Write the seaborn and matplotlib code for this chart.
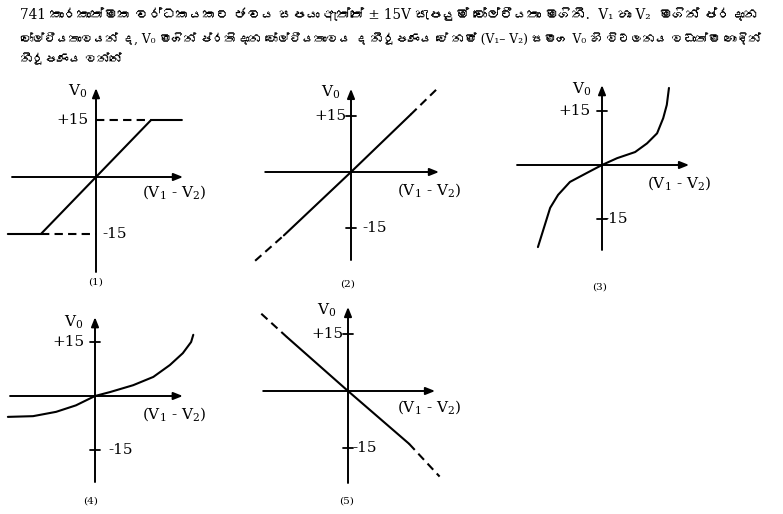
import matplotlib
matplotlib.use("Agg")
import matplotlib.pyplot as plt
from matplotlib import font_manager, ft2font
import seaborn as sns

sns.set_style("white")

# look for any installed family that covers Sinhala (U+0D80-U+0DFF)
sinhala_families = []
for f in font_manager.fontManager.ttflist:
    try:
        cmap = ft2font.FT2Font(f.fname).get_charmap()
    except Exception:
        continue
    if 0x0D9A in cmap and 0x0DCA in cmap and f.name not in sinhala_families:
        sinhala_families.append(f.name)

plt.rcParams["font.family"] = ["DejaVu Serif"] + sinhala_families + ["DejaVu Sans"]
plt.rcParams["mathtext.fontset"] = "dejavuserif"
plt.rcParams["text.color"] = "black"

W, H = 783, 514

# Question text (Sinhala); unicode subscripts so the font fallback keeps working
question_lines = [
    "741 කාරකාත්මක වර්ධකයකට ජවය සපයා ඇත්තේ ± 15V සැපයුම් වෝල්ටීයතා මගිනි.  V₁ හා V₂  මගින් ප්‍රදාන",
    "වෝල්ටීයතාවයන් ද, V₀ මගින් ප්‍රතිදාන වෝල්ටීයතාවය ද නිරූපණය වේ නම් (V₁– V₂) සමග V₀ හි විචලනය වඩාත්ම හොඳින්",
    "නිරූපණය වන්නේ",
]

panel_tags = ["(1)", "(2)", "(3)", "(4)", "(5)"]
y_label = "V$_0$"
x_label = "(V$_1$ - V$_2$)"
level_labels = ["+15", "-15"]
levels = [15, -15]

# Panel 1: clipped at the supply rails
p1_solid_x = [-23.2, -14.5, 0, 14.5, 22.6]
p1_solid_y = [-15, -15, 0, 15, 15]
p1_rail_hi_x = [0, 14.5]
p1_rail_hi_y = [15, 15]
p1_rail_lo_x = [-14.5, 0]
p1_rail_lo_y = [-15, -15]

# Panel 2: straight line, dashed past the rails
p2_solid_x = [-18.0, 0, 16.0]
p2_solid_y = [-17.0, 0, 15.4]
p2_dash_lo_x = [-25.7, -18.0]
p2_dash_lo_y = [-23.8, -17.0]
p2_dash_hi_x = [16.0, 23.6]
p2_dash_hi_y = [15.4, 22.8]

# Panel 3: S-shaped curve
p3_x = [-17.8, -14.4, -12.2, -8.9, -4.2, 0, 4.2, 9.2, 12.5, 15.3, 17.0, 18.0, 18.6]
p3_y = [-22.8, -11.9, -8.3, -4.7, -2.2, 0, 1.9, 3.6, 6.0, 8.8, 13.0, 16.7, 21.4]

# Panel 4: exponential-like curve
p4_x = [-24.2, -17.2, -10.8, -5.3, 0, 4.2, 10.6, 16.2, 20.8, 24.4, 26.7, 27.3]
p4_y = [-5.8, -5.6, -4.4, -2.6, 0, 1.1, 3.0, 5.3, 8.6, 11.9, 15.0, 17.0]

# Panel 5: inverted straight line
p5_solid_x = [-16.2, 0, 16.2]
p5_solid_y = [14.3, 0, -14.0]
p5_dash_hi_x = [-23.0, -16.2]
p5_dash_hi_y = [20.5, 14.3]
p5_dash_lo_x = [16.2, 24.3]
p5_dash_lo_y = [-14.0, -22.7]

# layout: origin in pixels, pixels per unit, axis extents, label positions
origins = [(96, 177), (351, 172), (602, 165), (95, 396), (348, 391)]
scales = [3.8, 3.73, 3.6, 3.6, 3.77]
x_ext = [(-22.1, 22.9), (-23.0, 23.6), (-23.6, 24.2), (-23.6, 24.4), (-22.5, 23.1)]
y_ext = [(-25.0, 23.4), (-23.6, 22.3), (-23.6, 22.2), (-23.9, 21.9), (-24.4, 22.3)]
v0_pos = [(-4.7, 22.6), (-5.4, 21.4), (-5.6, 21.1), (-5.8, 20.6), (-5.6, 21.5)]
hi_pos = [-2.1, -1.3, -3.3, -2.8, -1.3]
lo_pos = [1.6, 3.0, 0.3, 3.6, 1.1]
xl_pos = [(12.1, -3.9), (12.3, -4.8), (12.5, -5.0), (13.1, -5.0), (13.0, -4.2)]
tag_pos = [(0, -27.6), (-0.8, -30.0), (-0.6, -34.0), (-1.1, -29.2), (-0.5, -29.2)]
has_ticks = [False, True, True, True, True]

text_left = 20
text_rows = [15, 40, 60]
text_right = 762

dash = (0, (4, 2.5))
lw = 1.5

fig = plt.figure(figsize=(W / 100, H / 100), dpi=100)
fig.patch.set_facecolor("white")

question_texts = []
for i, line in enumerate(question_lines):
    t = fig.text(text_left / W, 1 - text_rows[i] / H, line, fontsize=10.5, va="center", ha="left")
    question_texts.append(t)

# shrink the first two lines so they end where the reference lines end
fig.canvas.draw()
renderer = fig.canvas.get_renderer()
for t in question_texts[:2]:
    width = t.get_window_extent(renderer).width
    t.set_fontsize(t.get_fontsize() * (text_right - text_left) / width)
question_texts[2].set_fontsize(question_texts[1].get_fontsize())

axes = []
for i in range(5):
    ox, oy = origins[i]
    s = scales[i]
    ax = fig.add_axes([(ox - 30 * s) / W, (H - oy - 30 * s) / H, 60 * s / W, 60 * s / H])
    ax.set_xlim(-30, 30)
    ax.set_ylim(-30, 30)
    ax.axis("off")
    ax.patch.set_alpha(0)
    arrow = dict(arrowstyle="-|>,head_length=0.55,head_width=0.22", lw=1.4,
                 color="black", shrinkA=0, shrinkB=0, mutation_scale=10)
    ax.annotate("", xy=(x_ext[i][1], 0), xytext=(x_ext[i][0], 0), arrowprops=arrow)
    ax.annotate("", xy=(0, y_ext[i][1]), xytext=(0, y_ext[i][0]), arrowprops=arrow)
    if has_ticks[i]:
        for lv in levels:
            ax.plot([-1.4, 1.4], [lv, lv], color="black", lw=1.3)
    ax.text(v0_pos[i][0], v0_pos[i][1], y_label, fontsize=11, ha="center", va="center")
    ax.text(hi_pos[i], levels[0], level_labels[0], fontsize=11, ha="right", va="center")
    ax.text(lo_pos[i], levels[1], level_labels[1], fontsize=11, ha="left", va="center")
    ax.text(xl_pos[i][0], xl_pos[i][1], x_label, fontsize=11, ha="left", va="center")
    ax.text(tag_pos[i][0], tag_pos[i][1], panel_tags[i], fontsize=7.5, ha="center", va="center")
    axes.append(ax)


def draw(ax, x, y, dashed=False):
    kw = dict(linestyle=dash) if dashed else {}
    sns.lineplot(x=x, y=y, ax=ax, color="black", lw=lw, sort=False, estimator=None, **kw)


draw(axes[0], p1_solid_x, p1_solid_y)
draw(axes[0], p1_rail_hi_x, p1_rail_hi_y, dashed=True)
draw(axes[0], p1_rail_lo_x, p1_rail_lo_y, dashed=True)

draw(axes[1], p2_solid_x, p2_solid_y)
draw(axes[1], p2_dash_lo_x, p2_dash_lo_y, dashed=True)
draw(axes[1], p2_dash_hi_x, p2_dash_hi_y, dashed=True)

draw(axes[2], p3_x, p3_y)
draw(axes[3], p4_x, p4_y)

draw(axes[4], p5_solid_x, p5_solid_y)
draw(axes[4], p5_dash_hi_x, p5_dash_hi_y, dashed=True)
draw(axes[4], p5_dash_lo_x, p5_dash_lo_y, dashed=True)

for ax in axes:
    ax.set_xlim(-30, 30)
    ax.set_ylim(-30, 30)

fig.savefig("out.png", dpi=100)
plt.close(fig)
